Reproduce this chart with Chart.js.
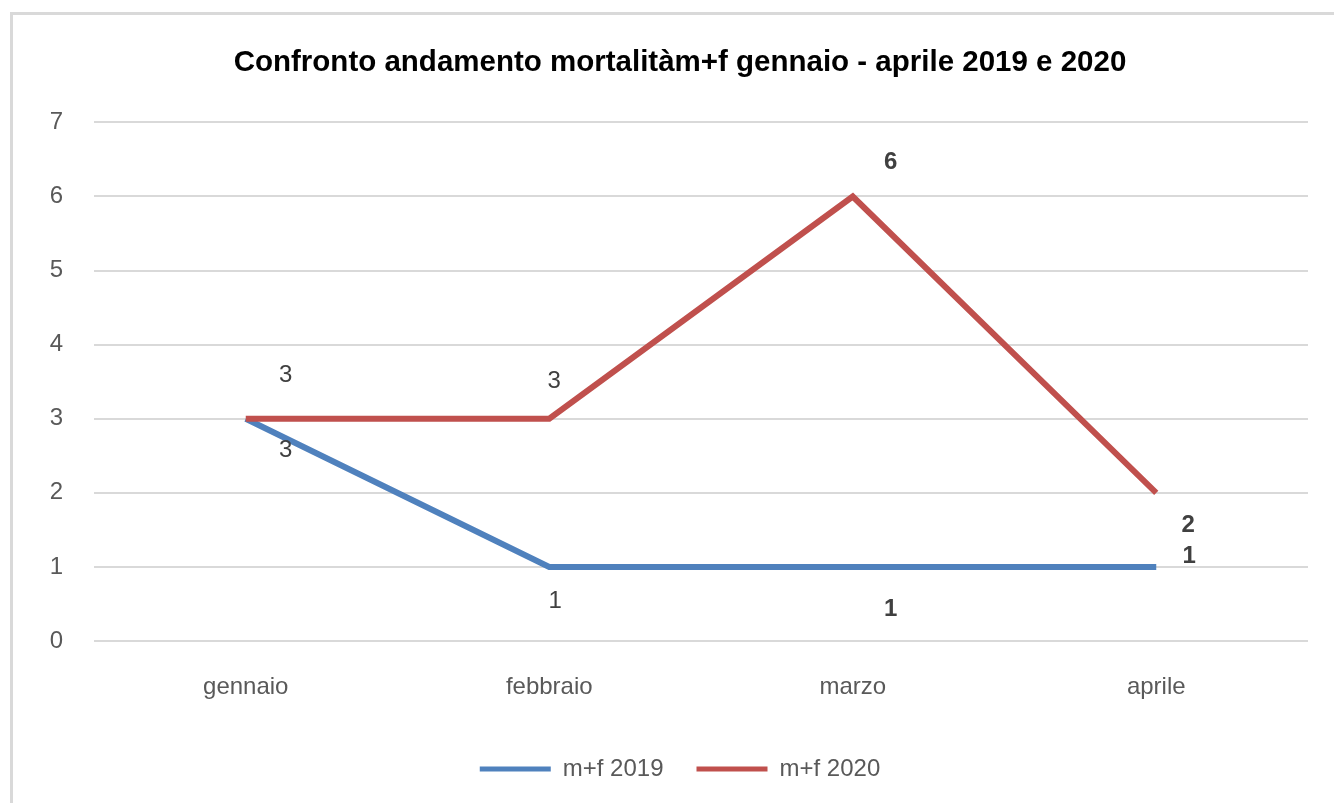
<!DOCTYPE html>
<html>
<head>
<meta charset="utf-8">
<script src="https://cdn.jsdelivr.net/npm/chart.js@4/dist/chart.umd.min.js"></script>
<style>
  html, body { margin: 0; padding: 0; background: #fff; overflow: hidden; }
  #frame { position: absolute; left: 10px; top: 12px; width: 1400px; height: 900px;
           border-left: 3px solid #d9d9d9; border-top: 3px solid #d9d9d9; }
  #wrap { position: absolute; left: 0; top: 0; width: 1334px; height: 803px; }
</style>
</head>
<body>
<div id="frame"></div>
<div id="wrap"><canvas id="mortChart" width="1334" height="803"></canvas></div>
<script>
// dati
const mesi = ['gennaio', 'febbraio', 'marzo', 'aprile'];
const mf2019 = [3, 1, 1, 1];
const mf2020 = [3, 3, 6, 2];
const yTicks = [0, 1, 2, 3, 4, 5, 6, 7];

// spostamento delle etichette rispetto al punto (px)
const labelOffsets = [
    [[40, 32], [6, 34], [38, 42], [33, -11]],
    [[40, -43], [5, -37], [38, -34], [32, 33]]
];
const labelBold = [false, false, true, true];
const FONT = '"Liberation Sans", Arial, sans-serif';

const etichette = {
    id: 'etichette',
    // titolo e legenda sono centrati un po' più a destra nell'originale
    afterLayout(chart) {
        [chart.titleBlock, chart.legend].forEach(b => {
            b.left += 26;
            b.right += 26;
        });
    },
    afterDatasetsDraw(chart) {
        const ctx = chart.ctx;
        ctx.save();
        ctx.fillStyle = '#404040';
        ctx.textAlign = 'center';
        ctx.textBaseline = 'middle';
        chart.data.datasets.forEach((ds, di) => {
            const meta = chart.getDatasetMeta(di);
            meta.data.forEach((pt, i) => {
                const off = labelOffsets[di][i];
                ctx.font = (labelBold[i] ? 'bold ' : '') + '24px ' + FONT;
                ctx.fillText(String(ds.data[i]), pt.x + off[0], pt.y + off[1]);
            });
        });
        ctx.restore();
    }
};

const ctx = document.getElementById('mortChart').getContext('2d');

const mortChart = new Chart(ctx, {
    type: 'line',
    data: {
        labels: mesi,
        datasets: [
            {
                label: 'm+f 2019',
                data: mf2019,
                borderColor: '#4f81bd',
                backgroundColor: '#4f81bd',
                borderWidth: 6,
                pointRadius: 0,
                order: 1,
                fill: false
            },
            {
                label: 'm+f 2020',
                data: mf2020,
                borderColor: '#c0504d',
                backgroundColor: '#c0504d',
                borderWidth: 6,
                pointRadius: 0,
                order: 0,
                fill: false
            }
        ]
    },
    options: {
        responsive: false,
        animation: false,
        layout: { padding: { left: 0, right: 26, top: 0, bottom: 12 } },
        plugins: {
            title: {
                display: true,
                text: 'Confronto andamento mortalitàm+f gennaio - aprile 2019 e 2020',
                color: '#000000',
                font: { family: FONT, size: 29.5, weight: 'bold' },
                padding: { top: 45, bottom: 42 }
            },
            legend: {
                position: 'bottom',
                labels: {
                    color: '#595959',
                    font: { family: FONT, size: 24 },
                    boxWidth: 71,
                    boxHeight: 5,
                    padding: 33,
                    sort: (a, b) => a.datasetIndex - b.datasetIndex,
                    generateLabels: (chart) =>
                        Chart.defaults.plugins.legend.labels.generateLabels(chart)
                            .map(l => ({ ...l, lineWidth: 0 }))
                }
            },
            tooltip: { enabled: false }
        },
        scales: {
            x: {
                offset: true,
                afterFit: (scale) => { scale.height = 83; },
                grid: { display: false, drawTicks: false },
                border: { display: false },
                ticks: {
                    color: '#595959',
                    padding: 32,
                    font: { family: FONT, size: 24 }
                }
            },
            y: {
                min: 0,
                max: 7,
                afterFit: (scale) => { scale.width = 94; },
                afterBuildTicks: (scale) => { scale.ticks = yTicks.map(v => ({ value: v })); },
                grid: { color: '#d9d9d9', lineWidth: 2, drawTicks: false },
                border: { display: false },
                ticks: {
                    color: '#595959',
                    padding: 31,
                    font: { family: FONT, size: 24 }
                }
            }
        }
    },
    plugins: [etichette]
});
</script>
</body>
</html>
